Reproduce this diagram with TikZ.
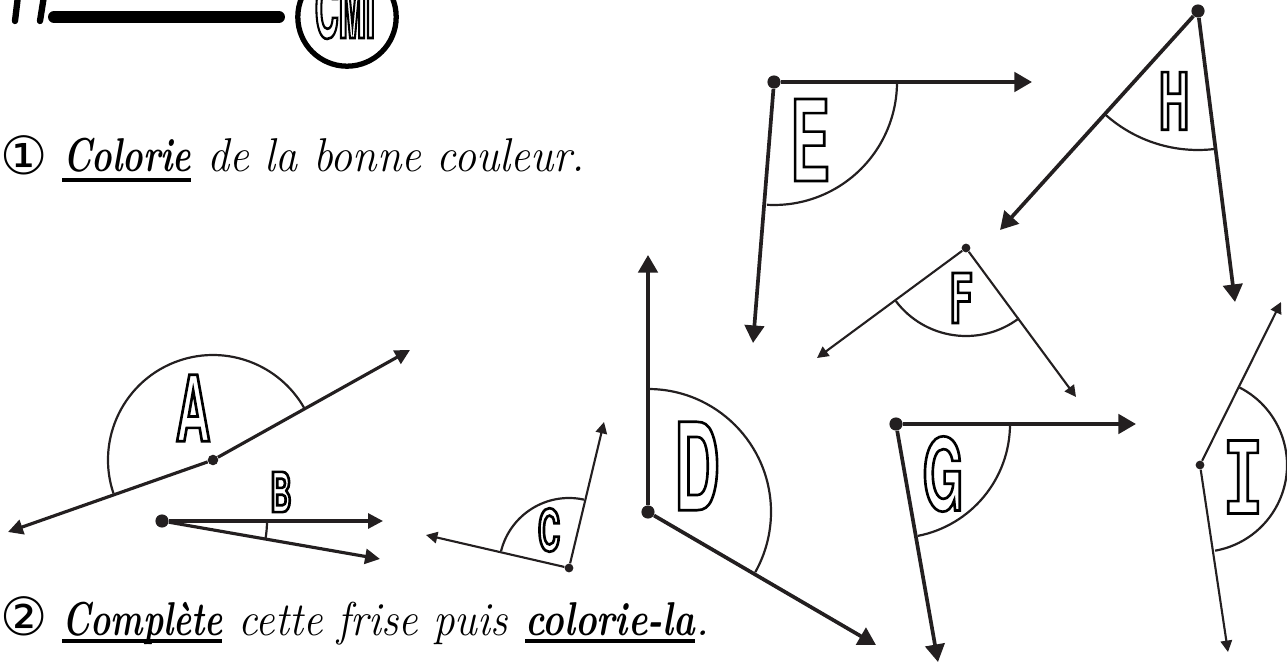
\documentclass[tikz,border=0pt]{standalone}
\usepackage{fontspec}
\usetikzlibrary{arrows.meta}
\newfontfamily\symbfont{DejaVu Sans}
\newfontfamily\anglefont[FakeStretch=0.52]{TeX Gyre Heros}
\newfontfamily\slabfont[FakeStretch=0.6]{Liberation Mono}
\definecolor{ink}{HTML}{231F20}
\newcommand{\hollow}[2]{\fontsize{#1}{#1}\selectfont\bfseries\special{pdf:code 1 Tr 1.5 w}#2\special{pdf:code 0 Tr 1 w}}
\newcommand{\markangle}[4]{\draw[markline] (#1) ++(#2:#4) arc[start angle=#2,end angle=#3,radius=#4];}
\tikzset{
  dotS/.style={circle, fill=ink, inner sep=0pt, minimum size=5pt},
  dotM/.style={circle, fill=ink, inner sep=0pt, minimum size=6pt},
  dotL/.style={circle, fill=ink, inner sep=0pt, minimum size=7.5pt},
  rayS/.style={draw=ink, line width=1.2pt, -{Triangle[length=6.5pt,width=6.5pt]}},
  rayM/.style={draw=ink, line width=1.8pt, -{Triangle[length=8.5pt,width=8.5pt]}},
  rayL/.style={draw=ink, line width=2.1pt, -{Triangle[length=10pt,width=11pt]}},
  markline/.style={draw=ink, line width=1.25pt},
  letter/.style={font=\anglefont, inner sep=0pt},
  script/.style={font=\fontsize{27}{27}\selectfont\itshape, anchor=base west, inner sep=0pt},
  scriptb/.style={font=\fontsize{27}{27}\selectfont\bfseries\itshape, anchor=base west, inner sep=0pt},
  numsign/.style={font=\fontsize{30}{30}\selectfont\symbfont, inner sep=0pt},
  underl/.style={draw=black, line width=2.8pt}
}
\begin{document}
\begin{tikzpicture}
  [x=.02cm,y=-.02cm]
  \useasboundingbox (0,0) rectangle (1287,665);

  % heading
  \draw[line width=3.6pt, line cap=round] (15,21) -- (18,-4);
  \draw[line width=3.6pt, line cap=round] (40,21) -- (44,-4);
  \draw[line width=6.8pt, line cap=round] (54,17) -- (279,17);
  \node[draw, circle, line width=3pt, minimum size=56pt, inner sep=0pt] (level) at (347,17) {};
  \node[letter, anchor=base] (cmi) at (345,38) {\hollow{46}{\scalebox{.78}[1]{CMI}}};

  % instructions
  \node[numsign] (one) at (24,155) {①};
  \node[scriptb] (colorie) at (63,172) {\scalebox{.73}[1]{Colorie}};
  \node[script] (rest1) at (207,172) {\scalebox{.93}[1]{de la bonne couleur.}};
  \draw[underl] (62,180) -- (191,180);

  \node[numsign] (two) at (24,616) {②};
  \node[scriptb] (complete) at (62,635) {\scalebox{.72}[1]{Complète}};
  \node[script] (rest2) at (238,635) {\scalebox{.91}[1]{cette frise puis}};
  \node[scriptb] (colorie2) at (525,635) {\scalebox{.77}[1]{colorie-la}};
  \node[script] (stop) at (695,635) {.};
  \draw[underl] (62,641) -- (222,641);
  \draw[underl] (525,641) -- (695,641);

  % angles
  \node[dotM] (A) at (213,460) {};
  \coordinate (A1) at (410,350);
  \coordinate (A2) at (8,532);
  \draw[rayM] (A) -- (A1);
  \draw[rayM] (A) -- (A2);
  \markangle{A}{161.4}{330.3}{105}
  \node[letter] (labA) at (193,408) {\hollow{52}{A}};

  \node[dotL] (B) at (162,521) {};
  \coordinate (B1) at (383,521);
  \coordinate (B2) at (380,559);
  \draw[rayM] (B) -- (B1);
  \draw[rayM] (B) -- (B2);
  \markangle{B}{0}{10}{105}
  \node[letter] (labB) at (281,492) {\hollow{31.5}{B}};

  \node[dotS] (C) at (569,568) {};
  \coordinate (C1) at (604,422);
  \coordinate (C2) at (426,535);
  \draw[rayS] (C) -- (C1);
  \draw[rayS] (C) -- (C2);
  \markangle{C}{194}{282.3}{70}
  \node[letter] (labC) at (549,530) {\hollow{33}{C}};

  \node[dotL] (D) at (648,512) {};
  \coordinate (D1) at (648,255);
  \coordinate (D2) at (876,645);
  \draw[rayL] (D) -- (D1);
  \draw[rayL] (D) -- (D2);
  \markangle{D}{270}{389.3}{123}
  \node[letter] (labD) at (697,466) {\hollow{69}{D}};

  \node[dotL] (E) at (774,82) {};
  \coordinate (E1) at (1032,82);
  \coordinate (E2) at (753,343);
  \draw[rayL] (E) -- (E1);
  \draw[rayL] (E) -- (E2);
  \markangle{E}{0}{93.3}{123}
  \node[letter] (labE) at (810,140) {\hollow{64}{E}};

  \node[dotS] (F) at (966,248) {};
  \coordinate (F1) at (817,358);
  \coordinate (F2) at (1076,397);
  \draw[rayS] (F) -- (F1);
  \draw[rayS] (F) -- (F2);
  \markangle{F}{143}{53}{88}
  \node[letter] (labF) at (961,298) {\hollow{39}{F}};

  \node[dotL] (G) at (896,424) {};
  \coordinate (G1) at (1136,424);
  \coordinate (G2) at (938,662);
  \draw[rayL] (G) -- (G1);
  \draw[rayL] (G) -- (G2);
  \markangle{G}{0}{79}{114}
  \node[letter] (labG) at (943,474) {\hollow{57}{G}};

  \node[dotL] (H) at (1198,11) {};
  \coordinate (H1) at (1000,230);
  \coordinate (H2) at (1235,302);
  \draw[rayL] (H) -- (H1);
  \draw[rayL] (H) -- (H2);
  \markangle{H}{131.8}{82.6}{139}
  \node[letter] (labH) at (1174,101) {\hollow{45}{H}};

  \node[dotS] (I) at (1200,465) {};
  \coordinate (I1) at (1281,302);
  \coordinate (I2) at (1228,652);
  \draw[rayS] (I) -- (I1);
  \draw[rayS] (I) -- (I2);
  \markangle{I}{-63}{80}{87}
  \node[letter, font=\slabfont] (labI) at (1243,477) {\hollow{63}{I}};
\end{tikzpicture}
\end{document}
